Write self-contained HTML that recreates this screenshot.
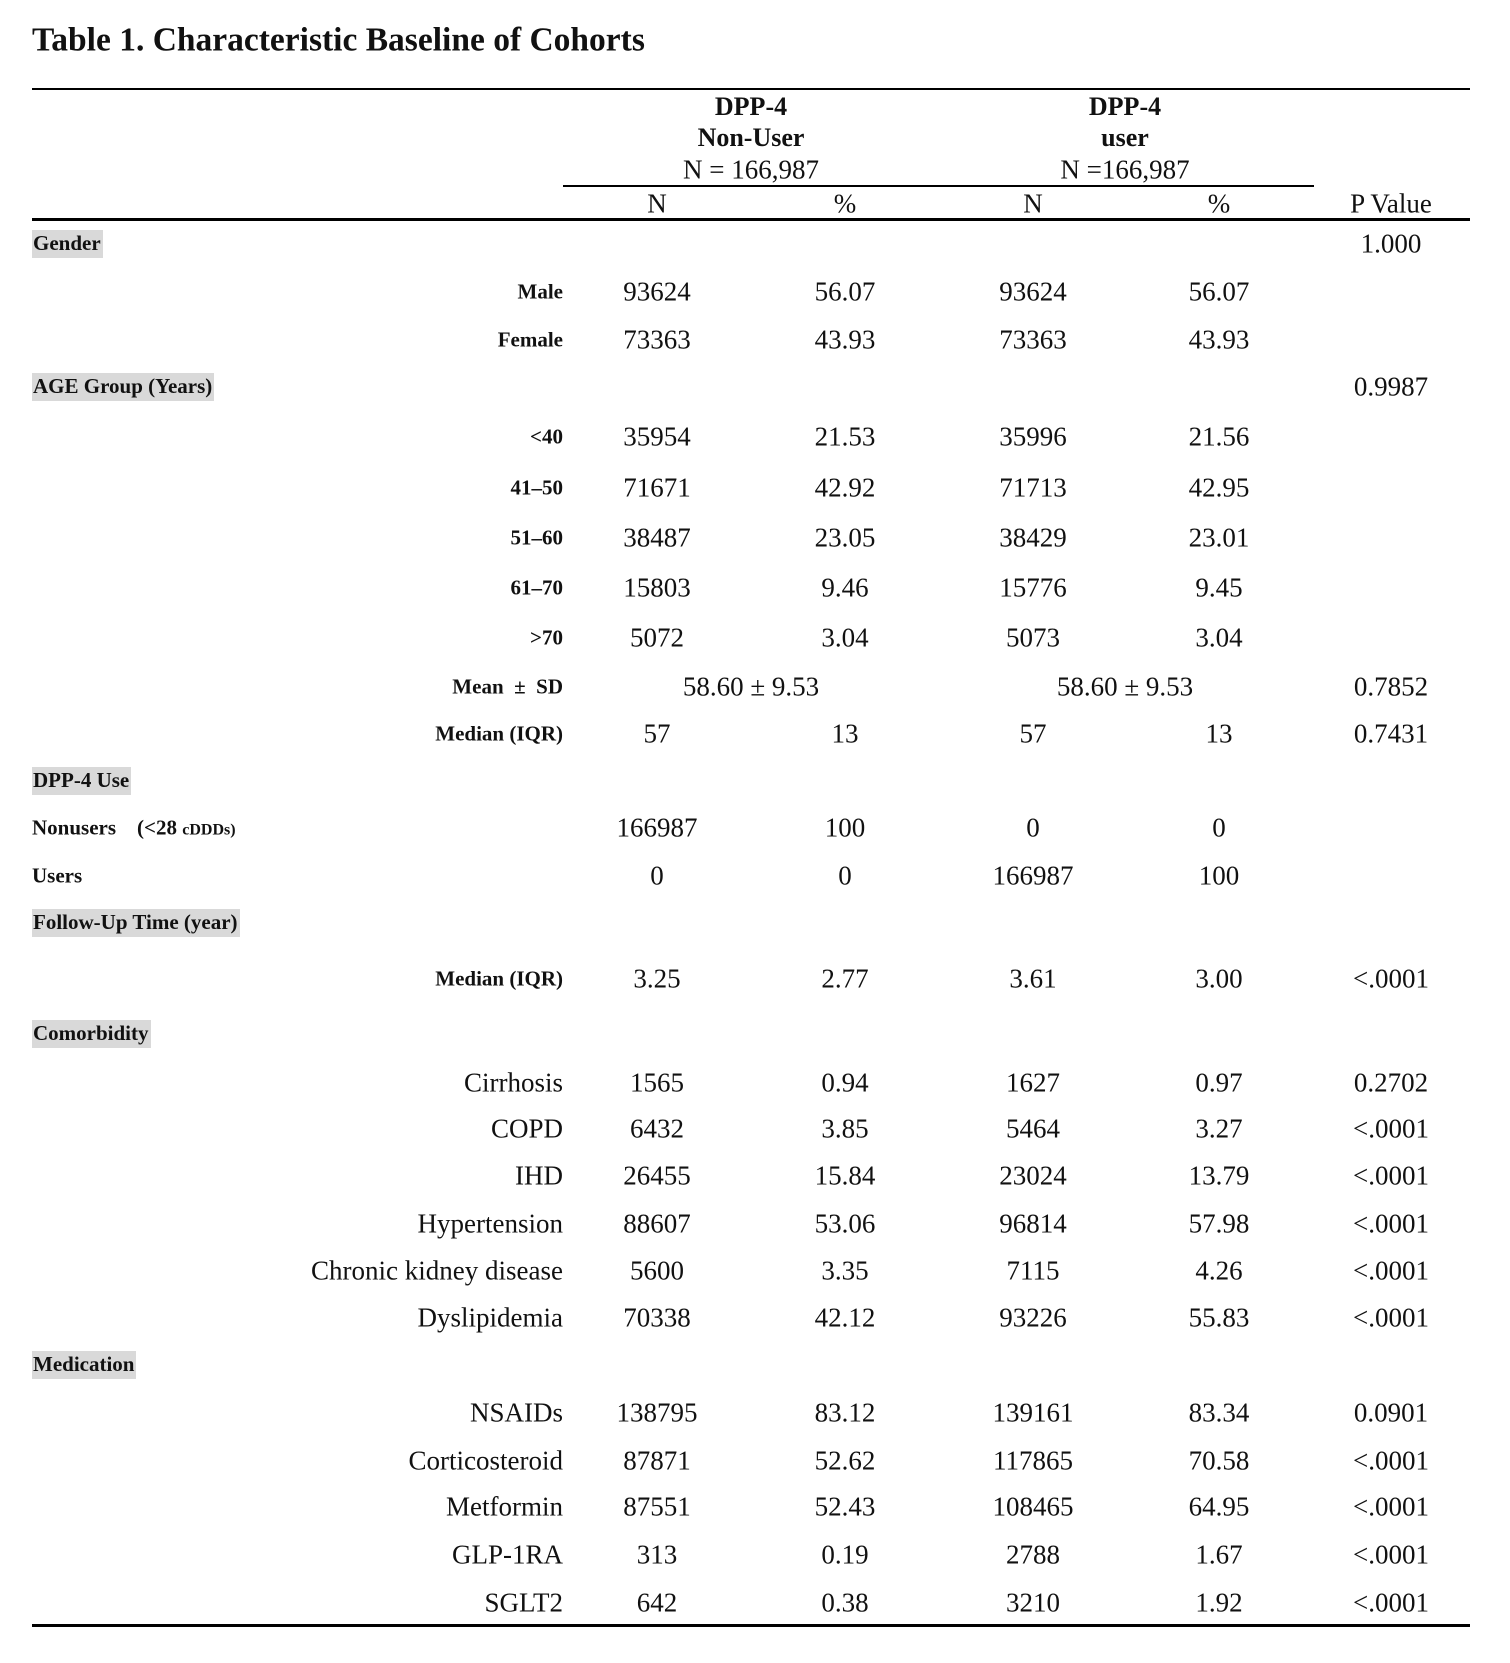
<!DOCTYPE html>
<html><head><meta charset="utf-8"><style>
html,body{margin:0;padding:0;background:#fff;}
body{width:1510px;height:1663px;position:relative;overflow:hidden;font-family:"Liberation Serif",serif;color:#111;}
.t{position:absolute;white-space:nowrap;line-height:1;}
.c{transform:translate(-50%,-50%);}
.r{transform:translate(-100%,-50%);}
.l{transform:translate(0,-50%);}
.n{font-size:27px;}
.b{font-weight:bold;font-size:21px;}
.s{font-weight:bold;font-size:21px;background:#d9d9d9;padding:3px 2px 4px 1px;}
.h{font-weight:bold;font-size:26px;}
.line{position:absolute;background:#000;}
</style></head><body>
<div class="t l" style="left:32px;top:40px;font-weight:bold;font-size:33.5px;">Table 1. Characteristic Baseline of Cohorts</div>
<div class="line" style="left:32px;top:88px;width:1438px;height:2px;"></div>
<div class="t c h" style="left:751px;top:107px;">DPP-4</div>
<div class="t c h" style="left:751px;top:138px;">Non-User</div>
<div class="t c n" style="left:751px;top:170px;">N = 166,987</div>
<div class="t c h" style="left:1125px;top:107px;">DPP-4</div>
<div class="t c h" style="left:1125px;top:138px;">user</div>
<div class="t c n" style="left:1125px;top:170px;">N =166,987</div>
<div class="line" style="left:563px;top:185px;width:751px;height:2px;"></div>
<div class="t c n" style="left:657px;top:204px;">N</div>
<div class="t c n" style="left:845px;top:204px;">%</div>
<div class="t c n" style="left:1033px;top:204px;">N</div>
<div class="t c n" style="left:1219px;top:204px;">%</div>
<div class="t c n" style="left:1391px;top:204px;">P Value</div>
<div class="line" style="left:32px;top:218px;width:1438px;height:3px;"></div>

<div class="t l s" style="left:32px;top:244px;">Gender</div>
<div class="t c n" style="left:1391px;top:244px;">1.000</div>

<div class="t r b" style="left:563px;top:292px;">Male</div>
<div class="t c n" style="left:657px;top:292px;">93624</div><div class="t c n" style="left:845px;top:292px;">56.07</div><div class="t c n" style="left:1033px;top:292px;">93624</div><div class="t c n" style="left:1219px;top:292px;">56.07</div>
<div class="t r b" style="left:563px;top:340px;">Female</div>
<div class="t c n" style="left:657px;top:340px;">73363</div><div class="t c n" style="left:845px;top:340px;">43.93</div><div class="t c n" style="left:1033px;top:340px;">73363</div><div class="t c n" style="left:1219px;top:340px;">43.93</div>

<div class="t l s" style="left:32px;top:387px;">AGE Group (Years)</div>
<div class="t c n" style="left:1391px;top:387px;">0.9987</div>

<div class="t r b" style="left:563px;top:437px;">&lt;40</div>
<div class="t c n" style="left:657px;top:437px;">35954</div><div class="t c n" style="left:845px;top:437px;">21.53</div><div class="t c n" style="left:1033px;top:437px;">35996</div><div class="t c n" style="left:1219px;top:437px;">21.56</div>
<div class="t r b" style="left:563px;top:488px;">41–50</div>
<div class="t c n" style="left:657px;top:488px;">71671</div><div class="t c n" style="left:845px;top:488px;">42.92</div><div class="t c n" style="left:1033px;top:488px;">71713</div><div class="t c n" style="left:1219px;top:488px;">42.95</div>
<div class="t r b" style="left:563px;top:538px;">51–60</div>
<div class="t c n" style="left:657px;top:538px;">38487</div><div class="t c n" style="left:845px;top:538px;">23.05</div><div class="t c n" style="left:1033px;top:538px;">38429</div><div class="t c n" style="left:1219px;top:538px;">23.01</div>
<div class="t r b" style="left:563px;top:588px;">61–70</div>
<div class="t c n" style="left:657px;top:588px;">15803</div><div class="t c n" style="left:845px;top:588px;">9.46</div><div class="t c n" style="left:1033px;top:588px;">15776</div><div class="t c n" style="left:1219px;top:588px;">9.45</div>
<div class="t r b" style="left:563px;top:638px;">&gt;70</div>
<div class="t c n" style="left:657px;top:638px;">5072</div><div class="t c n" style="left:845px;top:638px;">3.04</div><div class="t c n" style="left:1033px;top:638px;">5073</div><div class="t c n" style="left:1219px;top:638px;">3.04</div>
<div class="t r b" style="left:563px;top:687px;">Mean &nbsp;± &nbsp;SD</div>
<div class="t c n" style="left:751px;top:687px;">58.60 ± 9.53</div><div class="t c n" style="left:1125px;top:687px;">58.60 ± 9.53</div><div class="t c n" style="left:1391px;top:687px;">0.7852</div>
<div class="t r b" style="left:563px;top:734px;">Median (IQR)</div>
<div class="t c n" style="left:657px;top:734px;">57</div><div class="t c n" style="left:845px;top:734px;">13</div><div class="t c n" style="left:1033px;top:734px;">57</div><div class="t c n" style="left:1219px;top:734px;">13</div><div class="t c n" style="left:1391px;top:734px;">0.7431</div>

<div class="t l s" style="left:32px;top:781px;">DPP-4 Use</div>
<div class="t l b" style="left:32px;top:828px;">Nonusers &nbsp;&nbsp;&nbsp;(&lt;28 <span style="font-size:16px">cDDDs)</span></div>
<div class="t c n" style="left:657px;top:828px;">166987</div><div class="t c n" style="left:845px;top:828px;">100</div><div class="t c n" style="left:1033px;top:828px;">0</div><div class="t c n" style="left:1219px;top:828px;">0</div>
<div class="t l b" style="left:32px;top:876px;">Users</div>
<div class="t c n" style="left:657px;top:876px;">0</div><div class="t c n" style="left:845px;top:876px;">0</div><div class="t c n" style="left:1033px;top:876px;">166987</div><div class="t c n" style="left:1219px;top:876px;">100</div>

<div class="t l s" style="left:32px;top:923px;">Follow-Up Time (year)</div>
<div class="t r b" style="left:563px;top:979px;">Median (IQR)</div>
<div class="t c n" style="left:657px;top:979px;">3.25</div><div class="t c n" style="left:845px;top:979px;">2.77</div><div class="t c n" style="left:1033px;top:979px;">3.61</div><div class="t c n" style="left:1219px;top:979px;">3.00</div><div class="t c n" style="left:1391px;top:979px;">&lt;.0001</div>

<div class="t l s" style="left:32px;top:1034px;">Comorbidity</div>
<div class="t r n" style="left:563px;top:1083px;">Cirrhosis</div>
<div class="t c n" style="left:657px;top:1083px;">1565</div><div class="t c n" style="left:845px;top:1083px;">0.94</div><div class="t c n" style="left:1033px;top:1083px;">1627</div><div class="t c n" style="left:1219px;top:1083px;">0.97</div><div class="t c n" style="left:1391px;top:1083px;">0.2702</div>
<div class="t r n" style="left:563px;top:1129px;">COPD</div>
<div class="t c n" style="left:657px;top:1129px;">6432</div><div class="t c n" style="left:845px;top:1129px;">3.85</div><div class="t c n" style="left:1033px;top:1129px;">5464</div><div class="t c n" style="left:1219px;top:1129px;">3.27</div><div class="t c n" style="left:1391px;top:1129px;">&lt;.0001</div>
<div class="t r n" style="left:563px;top:1176px;">IHD</div>
<div class="t c n" style="left:657px;top:1176px;">26455</div><div class="t c n" style="left:845px;top:1176px;">15.84</div><div class="t c n" style="left:1033px;top:1176px;">23024</div><div class="t c n" style="left:1219px;top:1176px;">13.79</div><div class="t c n" style="left:1391px;top:1176px;">&lt;.0001</div>
<div class="t r n" style="left:563px;top:1224px;">Hypertension</div>
<div class="t c n" style="left:657px;top:1224px;">88607</div><div class="t c n" style="left:845px;top:1224px;">53.06</div><div class="t c n" style="left:1033px;top:1224px;">96814</div><div class="t c n" style="left:1219px;top:1224px;">57.98</div><div class="t c n" style="left:1391px;top:1224px;">&lt;.0001</div>
<div class="t r n" style="left:563px;top:1271px;">Chronic kidney disease</div>
<div class="t c n" style="left:657px;top:1271px;">5600</div><div class="t c n" style="left:845px;top:1271px;">3.35</div><div class="t c n" style="left:1033px;top:1271px;">7115</div><div class="t c n" style="left:1219px;top:1271px;">4.26</div><div class="t c n" style="left:1391px;top:1271px;">&lt;.0001</div>
<div class="t r n" style="left:563px;top:1318px;">Dyslipidemia</div>
<div class="t c n" style="left:657px;top:1318px;">70338</div><div class="t c n" style="left:845px;top:1318px;">42.12</div><div class="t c n" style="left:1033px;top:1318px;">93226</div><div class="t c n" style="left:1219px;top:1318px;">55.83</div><div class="t c n" style="left:1391px;top:1318px;">&lt;.0001</div>

<div class="t l s" style="left:32px;top:1365px;">Medication</div>
<div class="t r n" style="left:563px;top:1413px;">NSAIDs</div>
<div class="t c n" style="left:657px;top:1413px;">138795</div><div class="t c n" style="left:845px;top:1413px;">83.12</div><div class="t c n" style="left:1033px;top:1413px;">139161</div><div class="t c n" style="left:1219px;top:1413px;">83.34</div><div class="t c n" style="left:1391px;top:1413px;">0.0901</div>
<div class="t r n" style="left:563px;top:1461px;">Corticosteroid</div>
<div class="t c n" style="left:657px;top:1461px;">87871</div><div class="t c n" style="left:845px;top:1461px;">52.62</div><div class="t c n" style="left:1033px;top:1461px;">117865</div><div class="t c n" style="left:1219px;top:1461px;">70.58</div><div class="t c n" style="left:1391px;top:1461px;">&lt;.0001</div>
<div class="t r n" style="left:563px;top:1507px;">Metformin</div>
<div class="t c n" style="left:657px;top:1507px;">87551</div><div class="t c n" style="left:845px;top:1507px;">52.43</div><div class="t c n" style="left:1033px;top:1507px;">108465</div><div class="t c n" style="left:1219px;top:1507px;">64.95</div><div class="t c n" style="left:1391px;top:1507px;">&lt;.0001</div>
<div class="t r n" style="left:563px;top:1555px;">GLP-1RA</div>
<div class="t c n" style="left:657px;top:1555px;">313</div><div class="t c n" style="left:845px;top:1555px;">0.19</div><div class="t c n" style="left:1033px;top:1555px;">2788</div><div class="t c n" style="left:1219px;top:1555px;">1.67</div><div class="t c n" style="left:1391px;top:1555px;">&lt;.0001</div>
<div class="t r n" style="left:563px;top:1603px;">SGLT2</div>
<div class="t c n" style="left:657px;top:1603px;">642</div><div class="t c n" style="left:845px;top:1603px;">0.38</div><div class="t c n" style="left:1033px;top:1603px;">3210</div><div class="t c n" style="left:1219px;top:1603px;">1.92</div><div class="t c n" style="left:1391px;top:1603px;">&lt;.0001</div>
<div class="line" style="left:32px;top:1624px;width:1438px;height:3px;"></div>
</body></html>
